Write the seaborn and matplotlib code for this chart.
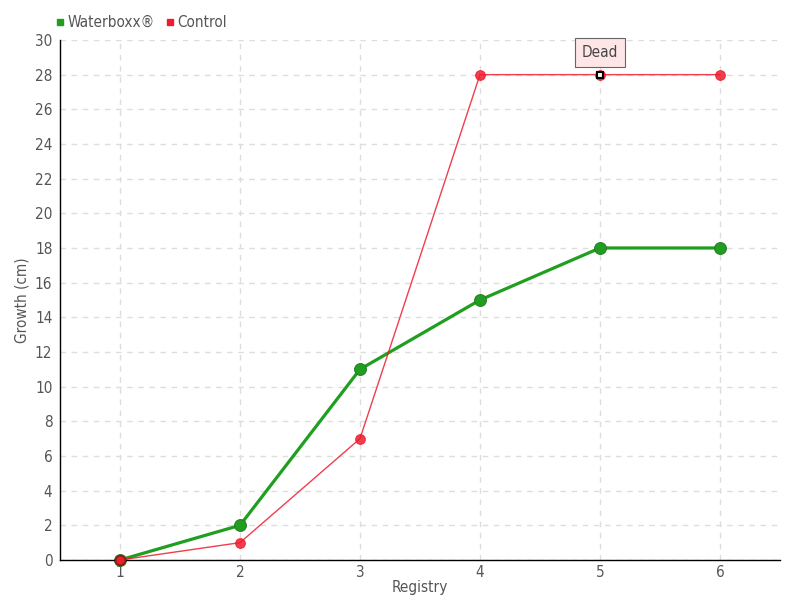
import matplotlib
matplotlib.use("Agg")
from matplotlib import pyplot as plt
from matplotlib.lines import Line2D
import pandas as pd
import seaborn as sns

registry = [1, 2, 3, 4, 5, 6]
waterboxx = [0, 2, 11, 15, 18, 18]
control = [0, 1, 7, 28, 28, 28]
y_ticks = list(range(0, 31, 2))

df = pd.DataFrame({
    'Registry': registry * 2,
    'Growth (cm)': waterboxx + control,
    'Series': ['Waterboxx®'] * 6 + ['Control'] * 6,
})

sns.set_style('white')
plt.rcParams['font.family'] = ['DejaVu Sans']
plt.rcParams['font.stretch'] = 'condensed'

green = '#1f9e1f'
red = '#ee1c2e'
txt = '#555555'

fig = plt.figure(figsize=(8, 6), dpi=100)
ax = fig.add_axes([0.075, 0.0667, 0.9, 0.8667])

sns.lineplot(data=df[df.Series == 'Control'], x='Registry', y='Growth (cm)',
             color=red, lw=1, marker='o', markersize=7, markeredgecolor=red,
             alpha=0.85, ax=ax, zorder=3, clip_on=False)
sns.lineplot(data=df[df.Series == 'Waterboxx®'], x='Registry', y='Growth (cm)',
             color=green, lw=2.3, marker='o', markersize=8.5, markeredgecolor='#2a7a2a',
             ax=ax, zorder=2, clip_on=False)
# control point 1 drawn over green
ax.plot(registry[0], control[0], 'o', color=red, ms=7, mec='#8a1a10', mew=1.2,
        zorder=4, clip_on=False)

# "Dead" marker
ax.plot(registry[4], control[4], 's', ms=5, mfc='white', mec='black', mew=1.5, zorder=5)
ax.annotate('Dead', xy=(registry[4], control[4]), xytext=(0, 16), textcoords='offset points',
            ha='center', va='center', fontsize=11, color='#444444',
            bbox=dict(boxstyle='square,pad=0.45', fc='#ffe6e6', ec='#666666', lw=0.8),
            zorder=6)

ax.set_xlim(0.5, 6.5)
ax.set_ylim(0, 30)
ax.set_xticks(registry)
ax.set_yticks(y_ticks)
ax.grid(True, color='#dddddd', ls=(0, (4, 4)), lw=1)
for s in ['top', 'right']:
    ax.spines[s].set_visible(False)
for s in ['left', 'bottom']:
    ax.spines[s].set_color('black')
    ax.spines[s].set_linewidth(1)
ax.tick_params(axis='both', colors='#444444', labelsize=11, length=4, width=1,
               direction='inout', labelcolor=txt)
ax.tick_params(axis='x', direction='in', length=5)
ax.set_xlabel('Registry', color=txt, fontsize=11, labelpad=0)
ax.set_ylabel('Growth (cm)', color=txt, fontsize=11, labelpad=4)

handles = [Line2D([], [], ls='', marker='s', ms=5, color=green),
           Line2D([], [], ls='', marker='s', ms=5, color=red)]
fig.legend(handles, ['Waterboxx®', 'Control'], loc='upper left',
           bbox_to_anchor=(0.05, 0.998), ncol=2, frameon=False, fontsize=11,
           handletextpad=0.1, columnspacing=0.6, labelcolor=txt, handlelength=0.8)

fig.savefig('out.png', dpi=100)
